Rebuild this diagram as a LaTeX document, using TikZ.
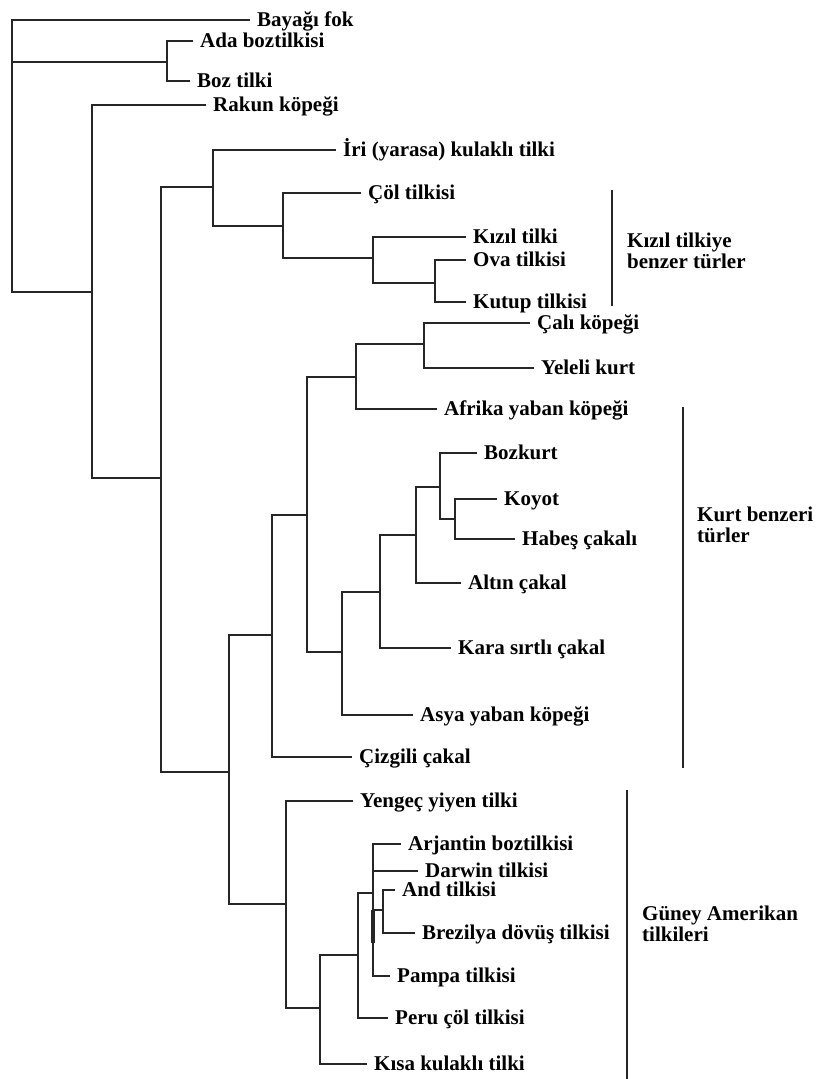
\documentclass[tikz,border=0pt]{standalone}
\usepackage{fontspec}
\setmainfont{Liberation Serif}
\begin{document}
\begin{tikzpicture}[x=1pt, y=-1pt,
    tree/.style={draw=black!85, line width=2pt},
    leaf/.style={anchor=west, inner xsep=7pt, inner ysep=0pt, text height=16pt, text depth=3pt, font=\fontsize{21}{22}\selectfont\bfseries},
    group/.style={anchor=north west, inner sep=0pt, align=left, font=\fontsize{21}{21}\selectfont\bfseries}]
  \useasboundingbox (0,0) rectangle (818,1079);
  \coordinate (root) at (12,62);
  \coordinate (nAda) at (167,62);
  \coordinate (nRakun) at (92,292);
  \coordinate (nCanid) at (161,478);
  \coordinate (nFox) at (213,187);
  \coordinate (nVulpes) at (283,226);
  \coordinate (nRed) at (373,258);
  \coordinate (nOva) at (435,283);
  \coordinate (nDogs) at (229,772);
  \coordinate (nWolf) at (272,635);
  \coordinate (nA) at (307,515);
  \coordinate (nB) at (356,377);
  \coordinate (nBush) at (424,344);
  \coordinate (nC) at (342,652);
  \coordinate (nD) at (380,592);
  \coordinate (nE) at (416,535);
  \coordinate (nF) at (440,487);
  \coordinate (nG) at (455,519);
  \coordinate (nSA) at (286,904);
  \coordinate (nH) at (320,1008);
  \coordinate (nI) at (358,955);
  \coordinate (nJ) at (373,893);
  \coordinate (nK) at (383,910);
  \node[leaf] (fok) at (250,19.5) {Bayağı fok};
  \node[leaf] (ada) at (193,41) {Ada boztilkisi};
  \node[leaf] (boz) at (190,81) {Boz tilki};
  \node[leaf] (rakun) at (206,105) {Rakun köpeği};
  \node[leaf] (iri) at (336,150) {İri (yarasa) kulaklı tilki};
  \node[leaf] (col) at (361,193) {Çöl tilkisi};
  \node[leaf] (kizil) at (466,237) {Kızıl tilki};
  \node[leaf] (ova) at (466,260) {Ova tilkisi};
  \node[leaf] (kutup) at (466,302) {Kutup tilkisi};
  \node[leaf] (cali) at (530,323) {Çalı köpeği};
  \node[leaf] (yeleli) at (534,368) {Yeleli kurt};
  \node[leaf] (afrika) at (437,409) {Afrika yaban köpeği};
  \node[leaf] (bozkurt) at (477,453) {Bozkurt};
  \node[leaf] (koyot) at (497,499) {Koyot};
  \node[leaf] (habes) at (515,539) {Habeş çakalı};
  \node[leaf] (altin) at (461,583) {Altın çakal};
  \node[leaf] (kara) at (451,648) {Kara sırtlı çakal};
  \node[leaf] (asya) at (413,715) {Asya yaban köpeği};
  \node[leaf] (cizgili) at (352,757) {Çizgili çakal};
  \node[leaf] (yengec) at (353,801) {Yengeç yiyen tilki};
  \node[leaf] (arjantin) at (401,844) {Arjantin boztilkisi};
  \node[leaf] (darwin) at (418,871) {Darwin tilkisi};
  \node[leaf] (and) at (395,890) {And tilkisi};
  \node[leaf] (brezilya) at (415,933) {Brezilya dövüş tilkisi};
  \node[leaf] (pampa) at (390,976) {Pampa tilkisi};
  \node[leaf] (peru) at (388,1018) {Peru çöl tilkisi};
  \node[leaf] (kisa) at (367,1064) {Kısa kulaklı tilki};
  \draw[tree] (root) |- (fok.west) (root) |- (nAda) (root) |- (nRakun);
  \draw[tree] (nAda) |- (ada.west) (nAda) |- (boz.west);
  \draw[tree] (nRakun) |- (rakun.west) (nRakun) |- (nCanid);
  \draw[tree] (nCanid) |- (nFox) (nCanid) |- (nDogs);
  \draw[tree] (nFox) |- (iri.west) (nFox) |- (nVulpes);
  \draw[tree] (nVulpes) |- (col.west) (nVulpes) |- (nRed);
  \draw[tree] (nRed) |- (kizil.west) (nRed) |- (nOva);
  \draw[tree] (nOva) |- (ova.west) (nOva) |- (kutup.west);
  \draw[tree] (nDogs) |- (nWolf) (nDogs) |- (nSA);
  \draw[tree] (nWolf) |- (nA) (nWolf) |- (cizgili.west);
  \draw[tree] (nA) |- (nB) (nA) |- (nC);
  \draw[tree] (nB) |- (nBush) (nB) |- (afrika.west);
  \draw[tree] (nBush) |- (cali.west) (nBush) |- (yeleli.west);
  \draw[tree] (nC) |- (nD) (nC) |- (asya.west);
  \draw[tree] (nD) |- (nE) (nD) |- (kara.west);
  \draw[tree] (nE) |- (nF) (nE) |- (altin.west);
  \draw[tree] (nF) |- (bozkurt.west) (nF) |- (nG);
  \draw[tree] (nG) |- (koyot.west) (nG) |- (habes.west);
  \draw[tree] (nSA) |- (yengec.west) (nSA) |- (nH);
  \draw[tree] (nH) |- (nI) (nH) |- (kisa.west);
  \draw[tree] (nI) |- (nJ) (nI) |- (peru.west);
  \draw[tree] (nJ) |- (arjantin.west) (nJ) |- (darwin.west) (nJ) |- (nK) (nJ) |- (pampa.west);
  \draw[tree] (nK) |- (and.west) (nK) |- (brezilya.west);
  \draw[tree, line width=4pt] (373,910) -- (373,943);
  \draw[tree] (612,190) -- (612,306);
  \draw[tree] (683,407) -- (683,768);
  \draw[tree] (627,790) -- (627,1079);
  \node[group] (kizilgrup) at (627,232.5) {Kızıl tilkiye\\benzer türler};
  \node[group] (kurtgrup) at (697,506.5) {Kurt benzeri\\türler};
  \node[group] (guneygrup) at (642,905.5) {Güney Amerikan\\tilkileri};
\end{tikzpicture}
\end{document}
